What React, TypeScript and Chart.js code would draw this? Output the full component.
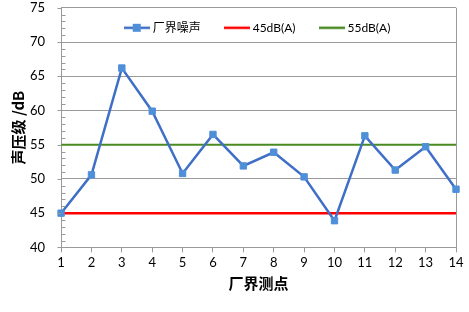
import React, { useEffect, useRef } from "react";
import { Chart, registerables } from "chart.js";

Chart.register(...registerables);

const categories = ["1", "2", "3", "4", "5", "6", "7", "8", "9", "10", "11", "12", "13", "14"];
const noiseValues = [45.0, 50.6, 66.2, 59.9, 50.8, 56.5, 51.9, 53.9, 50.3, 43.9, 56.3, 51.3, 54.7, 48.5];
const limit45 = [45, 45, 45, 45, 45, 45, 45, 45, 45, 45, 45, 45, 45, 45];
const limit55 = [55, 55, 55, 55, 55, 55, 55, 55, 55, 55, 55, 55, 55, 55];
const seriesNames = ["厂界噪声", "45dB(A)", "55dB(A)"];
const yTitle = "声压级 /dB";
const xTitle = "厂界测点";

const FONT = "Lato, 'Noto Sans CJK SC', sans-serif";
const LINE_BLUE = "#3F6FC6";
const MARK_BLUE = "#4F8FD9";
const RED = "#FF0000";
const GREEN = "#4A8A22";
const GRID = "#9A9A9A";

function legendIcon(color: string, marker: boolean): HTMLCanvasElement {
  const c = document.createElement("canvas");
  c.width = 26;
  c.height = 10;
  const ctx = c.getContext("2d")!;
  ctx.strokeStyle = color;
  ctx.lineWidth = 2.5;
  ctx.beginPath();
  ctx.moveTo(0, 5);
  ctx.lineTo(26, 5);
  ctx.stroke();
  if (marker) {
    ctx.fillStyle = MARK_BLUE;
    ctx.fillRect(9, 1, 8, 8);
  }
  return c;
}

// Legend is laid out as "top" but takes no space, so it floats inside the plot area.
const floatingLegend = {
  id: "floatingLegend",
  beforeLayout(chart: any) {
    const lg = chart.legend;
    if (lg && !lg.__patched) {
      const origFit = lg.fit;
      lg.fit = function () {
        origFit.call(this);
        this.__realHeight = this.height;
        this.height = 0;
      };
      lg.__patched = true;
    }
  },
  afterLayout(chart: any) {
    const lg = chart.legend;
    if (lg && lg.__realHeight !== undefined) {
      lg.top = lg.top - 12;
      lg.height = lg.__realHeight;
      lg.bottom = lg.top + lg.__realHeight;
    }
  },
};

// Major ticks outside the y axis, minor ticks (every 1 dB) inside.
const yTickMarks = {
  id: "yTickMarks",
  afterDraw(chart: any) {
    const y = chart.scales.y;
    const ctx = chart.ctx;
    const x0 = Math.round(y.right) + 0.5;
    ctx.save();
    ctx.strokeStyle = GRID;
    ctx.lineWidth = 1;
    for (let v = y.min; v <= y.max; v += 1) {
      const py = Math.round(y.getPixelForValue(v)) + 0.5;
      ctx.beginPath();
      if (v % 5 === 0) {
        ctx.moveTo(x0 - 4, py);
        ctx.lineTo(x0, py);
      } else {
        ctx.moveTo(x0, py);
        ctx.lineTo(x0 + 4, py);
      }
      ctx.stroke();
    }
    ctx.restore();
  },
};

export default function App() {
  const ref = useRef<HTMLCanvasElement>(null);
  useEffect(() => {
    document.body.style.margin = "0";
    const icons = [legendIcon(LINE_BLUE, true), legendIcon(RED, false), legendIcon(GREEN, false)];
    const chart = new Chart(ref.current!, {
      type: "line",
      data: {
        labels: categories,
        datasets: [
          {
            label: seriesNames[0],
            data: noiseValues,
            borderColor: LINE_BLUE,
            backgroundColor: MARK_BLUE,
            borderWidth: 2.5,
            pointStyle: "rect",
            pointRadius: 4.5,
            pointBorderWidth: 1,
            pointBorderColor: MARK_BLUE,
            pointBackgroundColor: MARK_BLUE,
            tension: 0,
            order: 0,
          },
          {
            label: seriesNames[1],
            data: limit45,
            borderColor: RED,
            backgroundColor: RED,
            borderWidth: 2.5,
            pointRadius: 0,
            order: 1,
          },
          {
            label: seriesNames[2],
            data: limit55,
            borderColor: GREEN,
            backgroundColor: GREEN,
            borderWidth: 2,
            pointRadius: 0,
            order: 1,
          },
        ],
      },
      options: {
        animation: false,
        responsive: false,
        layout: { padding: { left: 9, right: 13, top: 0, bottom: 20 } },
        plugins: {
          legend: {
            position: "top",
            align: "center",
            fullSize: false,
            labels: {
              usePointStyle: true,
              pointStyleWidth: 20,
              padding: 26,
              color: "#000",
              font: { family: FONT, size: 12 },
              generateLabels: (c: any) =>
                c.data.datasets.map((d: any, i: number) => ({
                  text: d.label,
                  pointStyle: icons[i],
                  fillStyle: "transparent",
                  strokeStyle: "transparent",
                  lineWidth: 0,
                  hidden: false,
                  datasetIndex: i,
                  fontColor: "#000",
                })),
            },
          },
          tooltip: { enabled: false },
        },
        scales: {
          x: {
            type: "category",
            offset: false,
            border: { color: GRID, width: 1 },
            grid: {
              color: (ctx: any) => (ctx.index === categories.length - 1 ? GRID : "rgba(0,0,0,0)"),
              tickColor: GRID,
              tickLength: 5,
              drawOnChartArea: true,
            },
            ticks: { color: "#000", font: { family: FONT, size: 13 }, padding: 3, maxRotation: 0 },
            title: {
              display: true,
              text: xTitle,
              color: "#000",
              font: { family: "'Noto Sans CJK SC', sans-serif", size: 15, weight: "bold" },
              padding: { top: 0, bottom: 0 },
            },
          },
          y: {
            min: 40,
            max: 75,
            border: { color: GRID, width: 1 },
            grid: { color: GRID, tickColor: "rgba(0,0,0,0)", tickLength: 16 },
            ticks: { stepSize: 5, color: "#000", font: { family: FONT, size: 13 }, padding: 0 },
            title: {
              display: true,
              text: yTitle,
              color: "#000",
              font: { family: "'Noto Sans CJK SC', sans-serif", size: 15, weight: "bold" },
              padding: { top: 0, bottom: 3 },
            },
          },
        },
      },
      plugins: [floatingLegend, yTickMarks],
    });
    return () => chart.destroy();
  }, []);
  return (
    <div style={{ position: "fixed", left: 0, top: 0, width: 469, height: 312, background: "#fff" }}>
      <canvas ref={ref} width={469} height={312} style={{ display: "block", width: 469, height: 312 }} />
    </div>
  );
}
